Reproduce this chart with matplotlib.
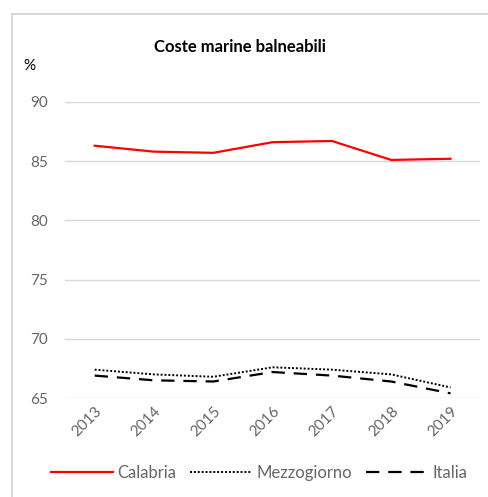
import matplotlib
matplotlib.use('Agg')
import matplotlib.pyplot as plt
from matplotlib.lines import Line2D

plt.rcParams['font.family'] = ['Lato', 'DejaVu Sans']

years = ['2013', '2014', '2015', '2016', '2017', '2018', '2019']
calabria = [86.3, 85.8, 85.7, 86.6, 86.7, 85.1, 85.2]
mezzogiorno = [67.4, 67.0, 66.8, 67.6, 67.4, 67.0, 65.9]
italia = [66.9, 66.5, 66.4, 67.2, 66.9, 66.4, 65.4]

fig = plt.figure(figsize=(4.89, 4.97), dpi=100)
ax = fig.add_axes([0.133, 0.199, 0.849, 0.596])

# outer chart frame (left and top edges only, as in the source)
fig.add_artist(Line2D([12/489, 12/489], [0, 1 - 14/497], color='#d0d0d0', lw=1.2))
fig.add_artist(Line2D([12/489, 1], [1 - 14/497, 1 - 14/497], color='#d0d0d0', lw=1.2))

x = list(range(len(years)))
ax.plot(x, calabria, color='#ff0000', lw=1.6, label='Calabria')
ax.plot(x, mezzogiorno, color='black', lw=1.4, ls=(0, (1, 1)), label='Mezzogiorno')
ax.plot(x, italia, color='black', lw=1.6, ls=(0, (6, 4)), label='Italia')

ax.set_xlim(-0.5, 6.5)
ax.set_ylim(65, 90)
ax.set_yticks([65, 70, 75, 80, 85, 90])
ax.set_xticks(x)
ax.set_xticklabels(years, rotation=45, ha='right', rotation_mode='anchor')
ax.grid(axis='y', color='#d9d9d9', lw=1)
ax.set_axisbelow(True)
for s in ax.spines.values():
    s.set_visible(False)
ax.tick_params(length=0, labelsize=11, labelcolor='#666666')
ax.tick_params(axis='y', pad=12)
ax.tick_params(axis='x', pad=4)

fig.text(0.49, 0.905, 'Coste marine balneabili', ha='center', va='center',
         fontsize=12, fontweight='bold')
fig.text(0.06, 0.868, '%', ha='center', va='center', fontsize=11)

fig.legend(loc='center', bbox_to_anchor=(0.53, 0.048), ncol=3, frameon=False,
           fontsize=12, handlelength=3.7, columnspacing=0.8, handletextpad=0.3,
           labelcolor='#666666')

fig.savefig('out.png', dpi=100, facecolor='white')
